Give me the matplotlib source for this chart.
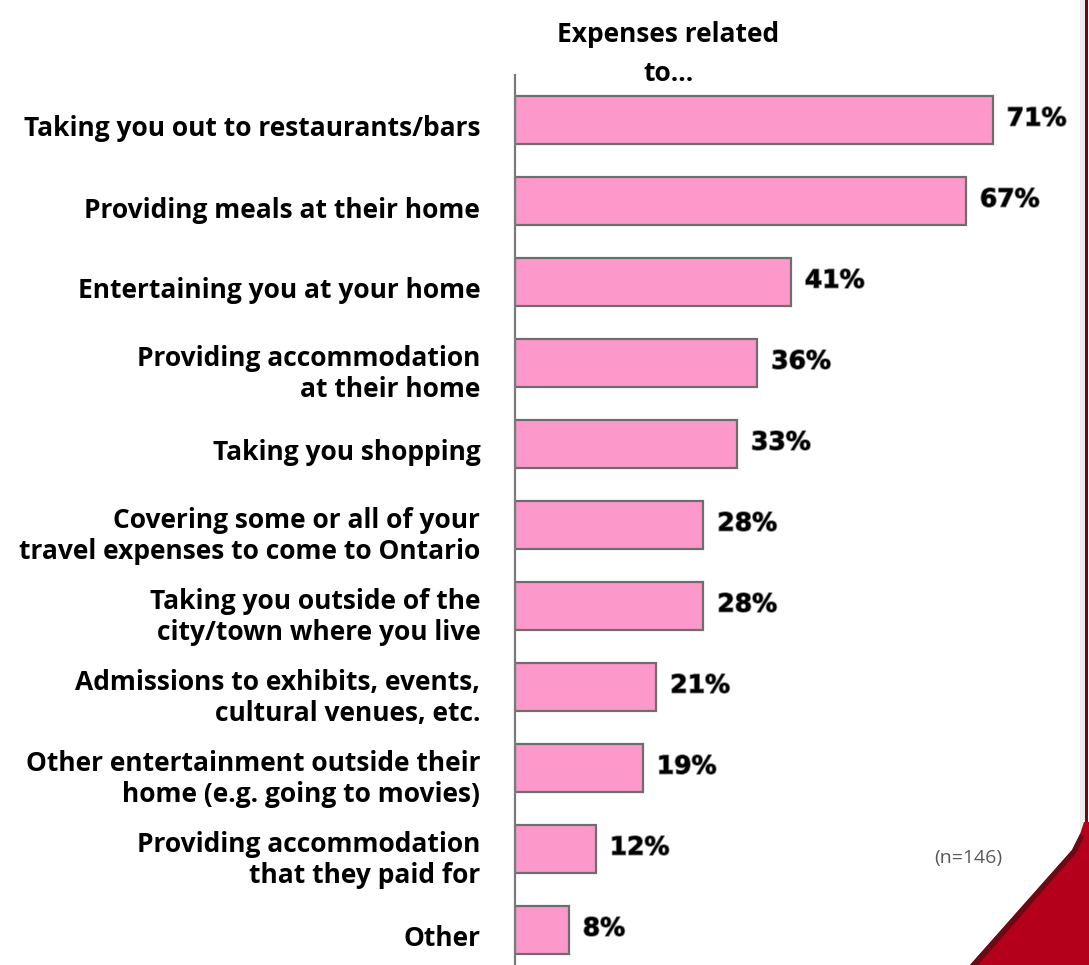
import matplotlib
matplotlib.use("Agg")
import matplotlib.pyplot as plt
from matplotlib.patches import Polygon
from matplotlib.transforms import ScaledTranslation
import matplotlib.patheffects as pe

# data
categories = [
    "Taking you out to restaurants/bars",
    "Providing meals at their home",
    "Entertaining you at your home",
    "Providing accommodation\nat their home",
    "Taking you shopping",
    "Covering some or all of your\ntravel expenses to come to Ontario",
    "Taking you outside of the\ncity/town where you live",
    "Admissions to exhibits, events,\ncultural venues, etc.",
    "Other entertainment outside their\nhome (e.g. going to movies)",
    "Providing accommodation\nthat they paid for",
    "Other",
]
values = [71, 67, 41, 36, 33, 28, 28, 21, 19, 12, 8]
title = "Expenses related\nto\u2026"
note = "(n=146)"

W, H = 1089, 965
fig = plt.figure(figsize=(W / 100, H / 100), dpi=100)
fig.patch.set_facecolor("white")

# axes placed in pixel terms: left edge 515, top 75, bottom 965
px_per_pct = 6.73
ax_left, ax_right, ax_top = 515, 1078, 75
ax = fig.add_axes([ax_left / W, 0, (ax_right - ax_left) / W, (H - ax_top) / H])
ax.set_xlim(0, (ax_right - ax_left) / px_per_pct)
step = 81.0
ax.set_ylim((H - 120) / step, -(120 - ax_top) / step)

ypos = list(range(len(values)))
ax.barh(ypos, values, height=0.6, color="#FC99CA", edgecolor="#6E6E6E", linewidth=1.6)

for y, v in zip(ypos, values):
    ax.annotate(f"{v}%", (v, y), xytext=(10, 1), textcoords="offset points",
                ha="left", va="center", fontsize=18, fontweight="bold",
                family="DejaVu Sans", color="black",
                path_effects=[pe.withStroke(linewidth=1.3, foreground="#8a8a8a")])

ax.set_yticks(ypos)
ax.set_yticklabels(categories, fontsize=19, fontweight="bold", family="Open Sans",
                   linespacing=1.2)
ax.tick_params(axis="y", length=0, pad=25)
# labels sit a little below the bar centres in the original
shift = ScaledTranslation(0, -6 / 100, fig.dpi_scale_trans)
for lab in ax.get_yticklabels():
    lab.set_transform(lab.get_transform() + shift)
ax.set_xticks([])
for s in ["top", "right", "bottom"]:
    ax.spines[s].set_visible(False)
ax.spines["left"].set_color("#7A7A7A")
ax.spines["left"].set_linewidth(1.6)
ax.set_facecolor("none")

fig.text(668 / W, 1 - 54 / H, title, ha="center", va="center", fontsize=19,
         fontweight="bold", family="Open Sans", linespacing=1.55)
fig.text(968 / W, 1 - 858 / H, note, ha="center", va="center", fontsize=14,
         family="Open Sans", color="#595959")

# red page frame at the right edge
tf = fig.transFigure
def fp(x, y):
    return (x / W, 1 - y / H)
fig.patches.append(Polygon([fp(1080, 0), fp(1085, 0), fp(1085, 830), fp(1080, 830)],
                           closed=True, transform=tf, facecolor="#EDEDED",
                           edgecolor="none"))
fig.patches.append(Polygon([fp(1085, 0), fp(1088, 0), fp(1088, 830), fp(1085, 830)],
                           closed=True, transform=tf, facecolor="#6B0A14",
                           edgecolor="none"))
fig.patches.append(Polygon([fp(1084, 822), fp(1089, 822), fp(1089, 965), fp(970, 965),
                            fp(1072, 850), fp(1080, 834)],
                           closed=True, transform=tf, facecolor="#B5001C",
                           edgecolor="none"))
fig.patches.append(Polygon([fp(1080, 834), fp(1072, 850), fp(970, 965), fp(978, 965),
                            fp(1077, 852), fp(1084, 836)],
                           closed=True, transform=tf, facecolor="#6B0A14",
                           edgecolor="none"))

fig.savefig("out.png", dpi=100)
